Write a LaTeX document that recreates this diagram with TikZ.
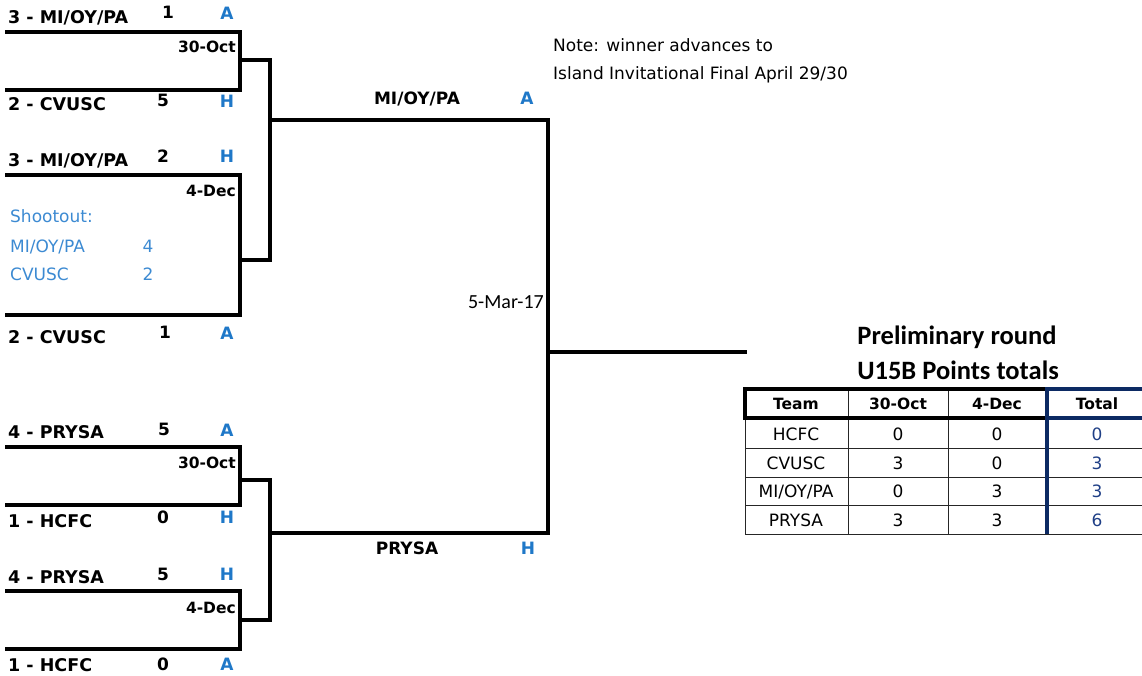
\documentclass[tikz,border=0pt]{standalone}
\usepackage{fontspec}
\setmainfont{DejaVu Sans}
\newfontfamily\calibri{Carlito}
\definecolor{venueblue}{HTML}{1F78C8}
\definecolor{shootblue}{HTML}{3C8AD2}
\definecolor{navyline}{HTML}{0C2A63}
\definecolor{totalblue}{HTML}{1F3F86}

\begin{document}
\begin{tikzpicture}[x=1pt,y=-1pt,
    bracket/.style={line width=4.5pt,line join=miter},
    thinrule/.style={line width=1pt,draw=black!85},
    headrule/.style={line width=4pt,line join=miter},
    team/.style={anchor=base west,inner sep=0pt,font=\bfseries\fontsize{17.5}{20}\selectfont},
    score/.style={anchor=base,inner sep=0pt,font=\bfseries\fontsize{17}{20}\selectfont},
    venue/.style={anchor=base,inner sep=0pt,text=venueblue,font=\bfseries\fontsize{17}{20}\selectfont},
    matchday/.style={anchor=base east,inner sep=0pt,font=\bfseries\fontsize{15.5}{18}\selectfont}]
    \useasboundingbox (0,0) rectangle (1142,676);

    % bracket corners
    \coordinate (q1tl) at (5,32);    \coordinate (q1tr) at (240,32);
    \coordinate (q1bl) at (5,90);    \coordinate (q1br) at (240,90);
    \coordinate (q1out) at (240,60);
    \coordinate (q2tl) at (5,175);   \coordinate (q2tr) at (240,175);
    \coordinate (q2bl) at (5,315);   \coordinate (q2br) at (240,315);
    \coordinate (q2out) at (240,260);
    \coordinate (q3tl) at (5,447);   \coordinate (q3tr) at (240,447);
    \coordinate (q3bl) at (5,505);   \coordinate (q3br) at (240,505);
    \coordinate (q3out) at (240,480);
    \coordinate (q4tl) at (5,591);   \coordinate (q4tr) at (240,591);
    \coordinate (q4bl) at (5,649);   \coordinate (q4br) at (240,649);
    \coordinate (q4out) at (240,620);
    \coordinate (s1a) at (270,60);   \coordinate (s1b) at (270,260);
    \coordinate (s1m) at (270,120);
    \coordinate (s2a) at (270,480);  \coordinate (s2b) at (270,620);
    \coordinate (s2m) at (270,533);
    \coordinate (f1) at (548,120);   \coordinate (f2) at (548,533);
    \coordinate (fm) at (548,352);   \coordinate (champ) at (747,352);

    \draw[bracket] (q1tl) -- (q1tr) -- (q1br) -- (q1bl);
    \draw[bracket] (q2tl) -- (q2tr) -- (q2br) -- (q2bl);
    \draw[bracket] (q3tl) -- (q3tr) -- (q3br) -- (q3bl);
    \draw[bracket] (q4tl) -- (q4tr) -- (q4br) -- (q4bl);
    \draw[bracket] (q1out) -- (s1a) -- (s1b) -- (q2out);
    \draw[bracket] (q3out) -- (s2a) -- (s2b) -- (q4out);
    \draw[bracket] (s1m) -- (f1) -- (f2) -- (s2m);
    \draw[bracket] (fm) -- (champ);

    % first round, 30-Oct
    \node[team]  (t1a) at (8,24)   {3 - MI/OY/PA};
    \node[score] (g1a) at (168,19) {1};
    \node[venue] (v1a) at (227,20) {A};
    \node[matchday] (d1) at (236,53) {30-Oct};
    \node[team]  (t1b) at (8,111)  {2 - CVUSC};
    \node[score] (g1b) at (163,107){5};
    \node[venue] (v1b) at (227,108){H};

    % second round, 4-Dec
    \node[team]  (t2a) at (8,167)  {3 - MI/OY/PA};
    \node[score] (g2a) at (163,163){2};
    \node[venue] (v2a) at (227,163){H};
    \node[matchday] (d2) at (236,197) {4-Dec};
    \node[team]  (t2b) at (8,343)  {2 - CVUSC};
    \node[score] (g2b) at (165,338){1};
    \node[venue] (v2b) at (227,339){A};

    % penalty shootout
    \begin{scope}[every node/.style={inner sep=0pt,text=shootblue,font=\fontsize{17}{20}\selectfont}]
        \node[anchor=base west] (so)  at (10,223) {Shootout:};
        \node[anchor=base west] (so1) at (10,252) {MI/OY/PA};
        \node[anchor=base]      (sg1) at (148,252) {4};
        \node[anchor=base west] (so2) at (10,280) {CVUSC};
        \node[anchor=base]      (sg2) at (148,280) {2};
    \end{scope}

    % lower half
    \node[team]  (t3a) at (8,438)  {4 - PRYSA};
    \node[score] (g3a) at (164,435){5};
    \node[venue] (v3a) at (227,436){A};
    \node[matchday] (d3) at (236,468) {30-Oct};
    \node[team]  (t3b) at (8,527)  {1 - HCFC};
    \node[score] (g3b) at (163,523){0};
    \node[venue] (v3b) at (227,523){H};

    \node[team]  (t4a) at (8,583)  {4 - PRYSA};
    \node[score] (g4a) at (163,580){5};
    \node[venue] (v4a) at (227,580){H};
    \node[matchday] (d4) at (236,613) {4-Dec};
    \node[team]  (t4b) at (8,671)  {1 - HCFC};
    \node[score] (g4b) at (163,670){0};
    \node[venue] (v4b) at (227,670){A};

    % final
    \node[score] (w1) at (417,105) {MI/OY/PA};
    \node[venue] (wv1) at (527,105) {A};
    \node[score] (w2) at (407,554) {PRYSA};
    \node[venue] (wv2) at (528,554) {H};
    \node[anchor=base east,inner sep=0pt,font=\calibri\fontsize{20}{24}\selectfont]
        (fdate) at (544,308) {5-Mar-17};

    \begin{scope}[every node/.style={anchor=base west,inner sep=0pt,font=\fontsize{17}{20}\selectfont}]
        \node (note1) at (553,52) {Note: winner advances to};
        \node (note2) at (553,80) {Island Invitational Final April 29/30};
    \end{scope}

    % points table
    \begin{scope}[every node/.style={anchor=base,inner sep=0pt,font=\calibri\bfseries\fontsize{26.5}{30}\selectfont}]
        \node (ttl1) at (957,344) {Preliminary round};
        \node (ttl2) at (958,379) {U15B Points totals};
    \end{scope}

    \draw[thinrule] (745,418) -- (745,534);
    \draw[thinrule] (848,389) -- (848,534);
    \draw[thinrule] (948,389) -- (948,534);
    \draw[thinrule] (745,448) -- (1142,448);
    \draw[thinrule] (745,477) -- (1142,477);
    \draw[thinrule] (745,505) -- (1142,505);
    \draw[thinrule] (745,534) -- (1142,534);
    \draw[headrule] (1047,389) -- (745,389) -- (745,418) -- (1047,418);
    \draw[headrule,navyline] (1142,389) -- (1047,389) -- (1047,534);
    \draw[headrule,navyline] (1047,418) -- (1142,418);

    \begin{scope}[every node/.style={anchor=base,inner sep=0pt,font=\bfseries\fontsize{15.5}{18}\selectfont}]
        \node (hteam) at (796,409)  {Team};
        \node (hoct)  at (898,409)  {30-Oct};
        \node (hdec)  at (997,409)  {4-Dec};
        \node (htot)  at (1097,409) {Total};
    \end{scope}

    \begin{scope}[every node/.style={anchor=base,inner sep=0pt,font=\fontsize{17}{20}\selectfont}]
        \node (p1) at (796,440) {HCFC};
        \node (p2) at (796,469) {CVUSC};
        \node (p3) at (796,497) {MI/OY/PA};
        \node (p4) at (796,526) {PRYSA};
        \node (o1) at (898,440) {0};
        \node (o2) at (898,469) {3};
        \node (o3) at (898,497) {0};
        \node (o4) at (898,526) {3};
        \node (e1) at (997,440) {0};
        \node (e2) at (997,469) {0};
        \node (e3) at (997,497) {3};
        \node (e4) at (997,526) {3};
        \node[text=totalblue] (n1) at (1097,440) {0};
        \node[text=totalblue] (n2) at (1097,469) {3};
        \node[text=totalblue] (n3) at (1097,497) {3};
        \node[text=totalblue] (n4) at (1097,526) {6};
    \end{scope}
\end{tikzpicture}
\end{document}
